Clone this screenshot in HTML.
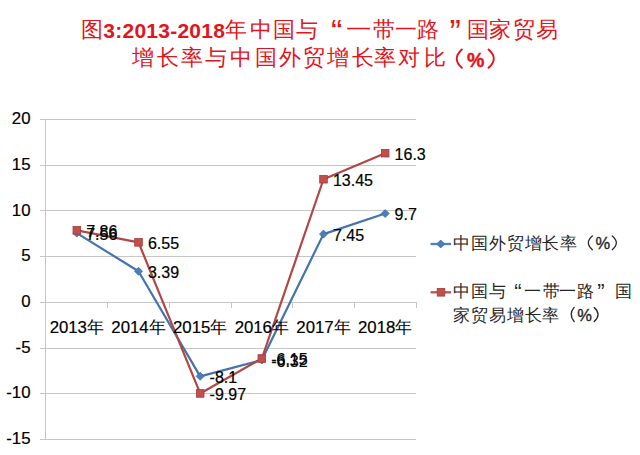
<!DOCTYPE html>
<html><head><meta charset="utf-8">
<style>
html,body{margin:0;padding:0;background:#fff;}
body{width:640px;height:455px;overflow:hidden;position:relative;font-family:"Liberation Sans",sans-serif;}
svg{position:absolute;left:0;top:0;}
.t{position:absolute;white-space:nowrap;line-height:1;}
.ax,.cat,.dl{color:#000;line-height:20px;-webkit-text-stroke:0.2px #000;}
</style></head><body>
<svg width="640" height="455" viewBox="0 0 640 455">
<path d="M461.85 49.50 Q451.65 58.65 461.85 67.80" fill="none" stroke="#E3141B" stroke-width="1.9" stroke-linecap="round"/>
<path d="M488.55 49.50 Q498.95 58.65 488.55 67.80" fill="none" stroke="#E3141B" stroke-width="1.9" stroke-linecap="round"/>
<path d="M592.35 236.00 Q584.35 242.85 592.35 249.70" fill="none" stroke="#262626" stroke-width="1.3" stroke-linecap="round"/>
<path d="M612.25 236.00 Q620.45 242.85 612.25 249.70" fill="none" stroke="#262626" stroke-width="1.3" stroke-linecap="round"/>
<path d="M574.15 307.40 Q568.15 314.45 574.15 321.50" fill="none" stroke="#262626" stroke-width="1.3" stroke-linecap="round"/>
<path d="M594.25 307.40 Q601.85 314.45 594.25 321.50" fill="none" stroke="#262626" stroke-width="1.3" stroke-linecap="round"/>
<g stroke="#C6C6C6" stroke-width="1" fill="none" shape-rendering="crispEdges">
<line x1="40" y1="119.5" x2="416.0" y2="119.5"/>
<line x1="40" y1="165.5" x2="416.0" y2="165.5"/>
<line x1="40" y1="210.5" x2="416.0" y2="210.5"/>
<line x1="40" y1="256.5" x2="416.0" y2="256.5"/>
<line x1="40" y1="302.5" x2="416.0" y2="302.5"/>
<line x1="40" y1="348.5" x2="416.0" y2="348.5"/>
<line x1="40" y1="393.5" x2="416.0" y2="393.5"/>
<line x1="40" y1="439.5" x2="416.0" y2="439.5"/>
<line x1="45.5" y1="119" x2="45.5" y2="440"/>
<line x1="107.5" y1="302" x2="107.5" y2="308"/>
<line x1="169.5" y1="302" x2="169.5" y2="308"/>
<line x1="231.5" y1="302" x2="231.5" y2="308"/>
<line x1="292.5" y1="302" x2="292.5" y2="308"/>
<line x1="354.5" y1="302" x2="354.5" y2="308"/>
<line x1="416.5" y1="302" x2="416.5" y2="308"/>
</g>
<polyline points="76.83,233.11 138.50,271.25 200.17,376.33 261.83,360.05 323.50,234.11 385.17,213.54" fill="none" stroke="#4573AD" stroke-width="2.2" stroke-linejoin="round"/>
<polyline points="76.83,230.36 138.50,242.35 200.17,393.43 261.83,358.50 323.50,179.24 385.17,153.18" fill="none" stroke="#B04744" stroke-width="2.2" stroke-linejoin="round"/>
<path d="M76.83 229.11 L80.83 233.11 L76.83 237.11 L72.83 233.11Z" fill="#4A7EBB" stroke="#3F6DA6" stroke-width="0.8"/>
<path d="M138.50 267.25 L142.50 271.25 L138.50 275.25 L134.50 271.25Z" fill="#4A7EBB" stroke="#3F6DA6" stroke-width="0.8"/>
<path d="M200.17 372.33 L204.17 376.33 L200.17 380.33 L196.17 376.33Z" fill="#4A7EBB" stroke="#3F6DA6" stroke-width="0.8"/>
<path d="M261.83 356.05 L265.83 360.05 L261.83 364.05 L257.83 360.05Z" fill="#4A7EBB" stroke="#3F6DA6" stroke-width="0.8"/>
<path d="M323.50 230.11 L327.50 234.11 L323.50 238.11 L319.50 234.11Z" fill="#4A7EBB" stroke="#3F6DA6" stroke-width="0.8"/>
<path d="M385.17 209.54 L389.17 213.54 L385.17 217.54 L381.17 213.54Z" fill="#4A7EBB" stroke="#3F6DA6" stroke-width="0.8"/>
<rect x="73.03" y="226.56" width="7.60" height="7.60" fill="#C24F4C" stroke="#9E3D3A" stroke-width="0.8"/>
<rect x="134.70" y="238.55" width="7.60" height="7.60" fill="#C24F4C" stroke="#9E3D3A" stroke-width="0.8"/>
<rect x="196.37" y="389.63" width="7.60" height="7.60" fill="#C24F4C" stroke="#9E3D3A" stroke-width="0.8"/>
<rect x="258.03" y="354.70" width="7.60" height="7.60" fill="#C24F4C" stroke="#9E3D3A" stroke-width="0.8"/>
<rect x="319.70" y="175.44" width="7.60" height="7.60" fill="#C24F4C" stroke="#9E3D3A" stroke-width="0.8"/>
<rect x="381.37" y="149.38" width="7.60" height="7.60" fill="#C24F4C" stroke="#9E3D3A" stroke-width="0.8"/>
<line x1="430.5" y1="244" x2="451" y2="244" stroke="#4F81BD" stroke-width="2.3"/>
<path d="M440.7 240.0 L444.7 244 L440.7 248.0 L436.7 244Z" fill="#4A7EBB" stroke="#3F6DA6" stroke-width="0.8"/>
<line x1="430.5" y1="292.3" x2="451" y2="292.3" stroke="#C0504D" stroke-width="2.3"/>
<rect x="437.2" y="288.5" width="7.6" height="7.6" fill="#C24F4C" stroke="#9E3D3A" stroke-width="0.8"/>
</svg>
<div class="t" style="left:81.0px;top:19.0px;font-size:22px;color:#E3141B;">图</div>
<div class="t" style="left:224.7px;top:19.0px;font-size:22px;color:#E3141B;">年</div>
<div class="t" style="left:250.1px;top:19.0px;font-size:22px;color:#E3141B;">中</div>
<div class="t" style="left:273.4px;top:19.0px;font-size:22px;color:#E3141B;">国</div>
<div class="t" style="left:295.8px;top:19.0px;font-size:22px;color:#E3141B;">与</div>
<div class="t" style="left:346.2px;top:19.0px;font-size:22px;color:#E3141B;transform:scaleX(1.16);transform-origin:0 0;">一</div>
<div class="t" style="left:372.7px;top:19.0px;font-size:22px;color:#E3141B;">带</div>
<div class="t" style="left:395.0px;top:19.0px;font-size:22px;color:#E3141B;">一</div>
<div class="t" style="left:417.2px;top:19.0px;font-size:22px;color:#E3141B;">路</div>
<div class="t" style="left:466.5px;top:19.0px;font-size:22px;color:#E3141B;">国</div>
<div class="t" style="left:488.9px;top:19.0px;font-size:22px;color:#E3141B;">家</div>
<div class="t" style="left:513.0px;top:19.0px;font-size:22px;color:#E3141B;">贸</div>
<div class="t" style="left:536.2px;top:19.0px;font-size:22px;color:#E3141B;">易</div>
<div class="t" style="left:331.0px;top:14.0px;font-size:34px;color:#E3141B;font-family:"Liberation Serif",serif;">“</div>
<div class="t" style="left:449.6px;top:14.0px;font-size:34px;color:#E3141B;font-family:"Liberation Serif",serif;">”</div>
<div class="t" style="left:103.3px;top:21.0px;font-size:21px;color:#E3141B;font-weight:bold;letter-spacing:0.25px;transform:scaleY(0.93);transform-origin:0 0;">3:2013-2018</div>
<div class="t" style="left:131.9px;top:47.3px;font-size:22px;color:#E3141B;">增</div>
<div class="t" style="left:156.9px;top:47.3px;font-size:22px;color:#E3141B;">长</div>
<div class="t" style="left:180.9px;top:47.3px;font-size:22px;color:#E3141B;">率</div>
<div class="t" style="left:205.0px;top:47.3px;font-size:22px;color:#E3141B;">与</div>
<div class="t" style="left:230.1px;top:47.3px;font-size:22px;color:#E3141B;">中</div>
<div class="t" style="left:255.2px;top:47.3px;font-size:22px;color:#E3141B;">国</div>
<div class="t" style="left:279.3px;top:47.3px;font-size:22px;color:#E3141B;">外</div>
<div class="t" style="left:303.4px;top:47.3px;font-size:22px;color:#E3141B;">贸</div>
<div class="t" style="left:327.4px;top:47.3px;font-size:22px;color:#E3141B;">增</div>
<div class="t" style="left:352.0px;top:47.3px;font-size:22px;color:#E3141B;">长</div>
<div class="t" style="left:373.5px;top:47.3px;font-size:22px;color:#E3141B;">率</div>
<div class="t" style="left:398.0px;top:47.3px;font-size:22px;color:#E3141B;">对</div>
<div class="t" style="left:423.8px;top:47.3px;font-size:22px;color:#E3141B;">比</div>
<div class="t" style="left:467.3px;top:48.6px;font-size:21px;color:#E3141B;font-weight:bold;transform:scaleX(0.93);transform-origin:0 0;-webkit-text-stroke:0.4px #E3141B;">%</div>
<div class="t" style="left:452.7px;top:235.0px;font-size:17px;color:#262626;">中</div>
<div class="t" style="left:470.7px;top:235.0px;font-size:17px;color:#262626;">国</div>
<div class="t" style="left:488.6px;top:235.0px;font-size:17px;color:#262626;">外</div>
<div class="t" style="left:507.4px;top:235.0px;font-size:17px;color:#262626;">贸</div>
<div class="t" style="left:525.4px;top:235.0px;font-size:17px;color:#262626;">增</div>
<div class="t" style="left:541.9px;top:235.0px;font-size:17px;color:#262626;">长</div>
<div class="t" style="left:559.8px;top:235.0px;font-size:17px;color:#262626;">率</div>
<div class="t" style="left:595.5px;top:235.0px;font-size:16.5px;color:#262626;-webkit-text-stroke:0.35px #262626;">%</div>
<div class="t" style="left:452.8px;top:283.2px;font-size:17px;color:#262626;">中</div>
<div class="t" style="left:470.7px;top:283.2px;font-size:17px;color:#262626;">国</div>
<div class="t" style="left:488.5px;top:283.2px;font-size:17px;color:#262626;">与</div>
<div class="t" style="left:514.2px;top:280.9px;font-size:22px;color:#262626;font-family:"Liberation Serif",serif;">“</div>
<div class="t" style="left:524.1px;top:283.2px;font-size:17px;color:#262626;">一</div>
<div class="t" style="left:543.4px;top:283.2px;font-size:17px;color:#262626;">带</div>
<div class="t" style="left:558.8px;top:283.2px;font-size:17px;color:#262626;">一</div>
<div class="t" style="left:576.8px;top:283.2px;font-size:17px;color:#262626;">路</div>
<div class="t" style="left:597.3px;top:280.9px;font-size:22px;color:#262626;font-family:"Liberation Serif",serif;">”</div>
<div class="t" style="left:614.8px;top:283.2px;font-size:17px;color:#262626;">国</div>
<div class="t" style="left:452.8px;top:307.0px;font-size:17px;color:#262626;">家</div>
<div class="t" style="left:470.8px;top:307.0px;font-size:17px;color:#262626;">贸</div>
<div class="t" style="left:488.8px;top:307.0px;font-size:17px;color:#262626;">易</div>
<div class="t" style="left:506.8px;top:307.0px;font-size:17px;color:#262626;">增</div>
<div class="t" style="left:524.8px;top:307.0px;font-size:17px;color:#262626;">长</div>
<div class="t" style="left:541.7px;top:307.0px;font-size:17px;color:#262626;">率</div>
<div class="t" style="left:577.3px;top:306.5px;font-size:16.5px;color:#262626;-webkit-text-stroke:0.35px #262626;">%</div>
<div class="t ax" style="right:609.5px;top:109.0px;font-size:16.8px;">20</div>
<div class="t ax" style="right:609.5px;top:154.8px;font-size:16.8px;">15</div>
<div class="t ax" style="right:609.5px;top:200.5px;font-size:16.8px;">10</div>
<div class="t ax" style="right:609.5px;top:246.2px;font-size:16.8px;">5</div>
<div class="t ax" style="right:609.5px;top:291.9px;font-size:16.8px;">0</div>
<div class="t ax" style="right:609.5px;top:337.7px;font-size:16.8px;">-5</div>
<div class="t ax" style="right:609.5px;top:383.4px;font-size:16.8px;">-10</div>
<div class="t ax" style="right:609.5px;top:429.1px;font-size:16.8px;">-15</div>
<div class="t cat" style="left:36.8px;top:317px;width:80px;font-size:16.8px;text-align:center;">2013<span style="font-size:16.5px;-webkit-text-stroke:0">年</span></div>
<div class="t cat" style="left:98.5px;top:317px;width:80px;font-size:16.8px;text-align:center;">2014<span style="font-size:16.5px;-webkit-text-stroke:0">年</span></div>
<div class="t cat" style="left:160.2px;top:317px;width:80px;font-size:16.8px;text-align:center;">2015<span style="font-size:16.5px;-webkit-text-stroke:0">年</span></div>
<div class="t cat" style="left:221.8px;top:317px;width:80px;font-size:16.8px;text-align:center;">2016<span style="font-size:16.5px;-webkit-text-stroke:0">年</span></div>
<div class="t cat" style="left:283.5px;top:317px;width:80px;font-size:16.8px;text-align:center;">2017<span style="font-size:16.5px;-webkit-text-stroke:0">年</span></div>
<div class="t cat" style="left:345.2px;top:317px;width:80px;font-size:16.8px;text-align:center;">2018<span style="font-size:16.5px;-webkit-text-stroke:0">年</span></div>
<div class="t dl" style="left:86.2px;top:224.8px;font-size:16px;">7.56</div>
<div class="t dl" style="left:147.9px;top:262.9px;font-size:16px;">3.39</div>
<div class="t dl" style="left:209.6px;top:368.0px;font-size:16px;">-8.1</div>
<div class="t dl" style="left:271.2px;top:351.8px;font-size:16px;">-6.32</div>
<div class="t dl" style="left:332.9px;top:225.8px;font-size:16px;">7.45</div>
<div class="t dl" style="left:394.6px;top:205.2px;font-size:16px;">9.7</div>
<div class="t dl" style="left:86.2px;top:222.1px;font-size:16px;">7.86</div>
<div class="t dl" style="left:147.9px;top:234.0px;font-size:16px;">6.55</div>
<div class="t dl" style="left:209.6px;top:385.1px;font-size:16px;">-9.97</div>
<div class="t dl" style="left:271.2px;top:350.2px;font-size:16px;">-6.15</div>
<div class="t dl" style="left:332.9px;top:170.9px;font-size:16px;">13.45</div>
<div class="t dl" style="left:394.6px;top:144.9px;font-size:16px;">16.3</div>
</body></html>
